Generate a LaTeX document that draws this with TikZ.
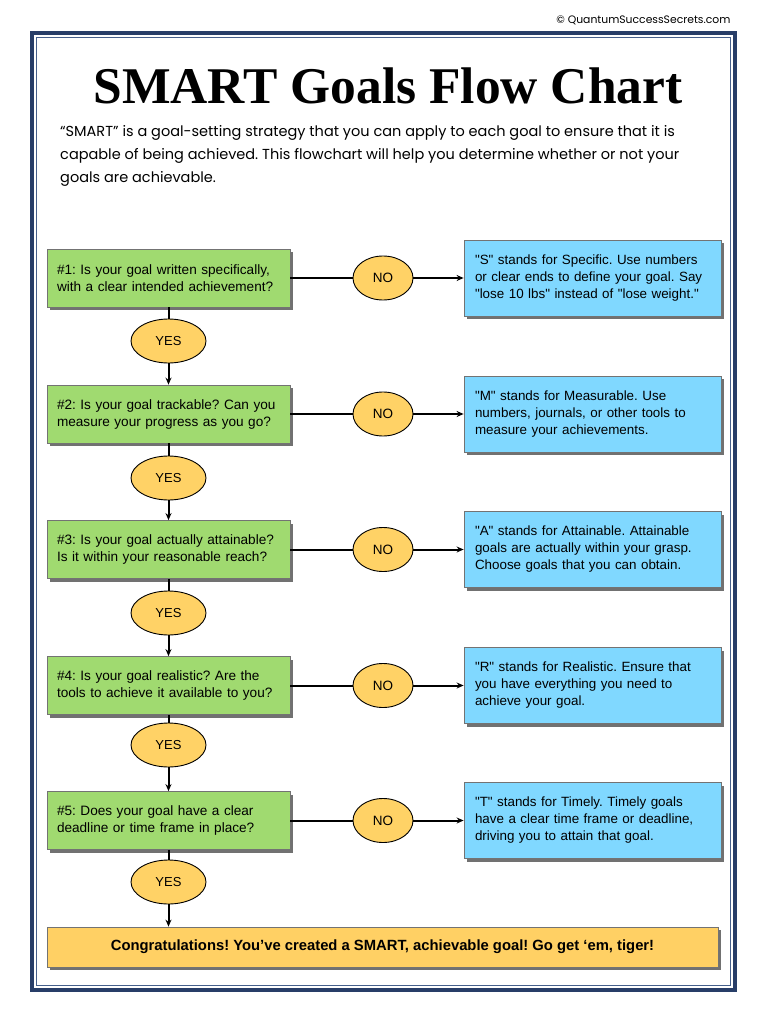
\documentclass[tikz,border=0pt]{standalone}
\usepackage{fontspec}
\setmainfont{Liberation Sans}
\newfontfamily\titlefont{Liberation Serif}
\newfontfamily\introfont{Poppins}
\usetikzlibrary{shapes.geometric,shadows,arrows.meta}
\definecolor{greenc}{RGB}{160,218,112}
\definecolor{bluec}{RGB}{128,216,255}
\definecolor{yelc}{RGB}{255,210,102}
\definecolor{finc}{RGB}{255,208,100}
\definecolor{navy}{RGB}{40,62,104}
\definecolor{navyl}{RGB}{70,96,140}
\newcommand{\dq}{\textquotedbl}
\tikzset{
  shad/.style={drop shadow={shadow xshift=3pt,shadow yshift=-3pt,fill=black!65,opacity=0.85}},
  qbox/.style={draw=black!55,line width=0.8pt,fill=greenc,shad,minimum width=243pt,minimum height=58pt,
    text width=223pt,inner xsep=10pt,align=left,font=\frenchspacing\fontsize{13.6}{17}\selectfont},
  sbox/.style={draw=black!55,line width=0.8pt,fill=bluec,shad,minimum width=257pt,minimum height=76pt,
    text width=235pt,inner xsep=11pt,align=left,font=\frenchspacing\fontsize{13.4}{17}\selectfont},
  yesell/.style={ellipse,draw=black,line width=0.9pt,fill=yelc,minimum width=75pt,minimum height=44pt,inner sep=0pt,font=\fontsize{13}{14}\selectfont},
  noell/.style={ellipse,draw=black,line width=0.9pt,fill=yelc,minimum width=60pt,minimum height=44pt,inner sep=0pt,font=\fontsize{13.5}{15}\selectfont},
  conn/.style={draw=black,line width=2pt},
  arr/.style={conn,-{Stealth[length=7pt,width=6pt]}}
}
\begin{document}
\begin{tikzpicture}[x=1pt,y=-1pt]
\useasboundingbox (0,0) rectangle (768,1024);
\fill[white] (0,0) rectangle (768,1024);
% frame
\draw[navy,line width=4pt] (32,33) rectangle (735,990);
\draw[navyl,line width=1pt] (36.5,37.5) rectangle (730.5,985.5);
% header
\node[anchor=east,font=\introfont\fontsize{10.8}{12}\selectfont] (copy) at (734,20) {© QuantumSuccessSecrets.com};
\node[font=\titlefont\bfseries\fontsize{51.5}{56}\selectfont] (title) at (388,86) {SMART Goals Flow Chart};
\node[anchor=base west,inner sep=0pt,font=\introfont\frenchspacing\fontsize{14.5}{16}\selectfont] (intro1) at (60,137) {“SMART” is a goal-setting strategy that you can apply to each goal to ensure that it is};
\node[anchor=base west,inner sep=0pt,font=\introfont\frenchspacing\fontsize{14.5}{16}\selectfont] (intro2) at (60,160) {capable of being achieved. This flowchart will help you determine whether or not your};
\node[anchor=base west,inner sep=0pt,font=\introfont\frenchspacing\fontsize{14.5}{16}\selectfont] (intro3) at (60,183) {goals are achievable.};
% questions
\node[qbox] (q1) at (168.5,278) {\#1: Is your goal written specifically,\\with a clear intended achievement?};
\node[qbox] (q2) at (168.5,414) {\#2: Is your goal trackable? Can you\\measure your progress as you go?};
\node[qbox] (q3) at (168.5,549.5) {\#3: Is your goal actually attainable?\\Is it within your reasonable reach?};
\node[qbox] (q4) at (168.5,685.5) {\#4: Is your goal realistic? Are the\\tools to achieve it available to you?};
\node[qbox] (q5) at (168.5,820.5) {\#5: Does your goal have a clear\\deadline or time frame in place?};
% explanations
\node[sbox] (s1) at (592.5,278) {\dq S\dq{} stands for Specific. Use numbers\\or clear ends to define your goal. Say\\\dq lose 10 lbs\dq{} instead of \dq lose weight.\dq};
\node[sbox] (s2) at (592.5,414) {\dq M\dq{} stands for Measurable. Use\\numbers, journals, or other tools to\\measure your achievements.};
\node[sbox] (s3) at (592.5,549.5) {\dq A\dq{} stands for Attainable. Attainable\\goals are actually within your grasp.\\Choose goals that you can obtain.};
\node[sbox] (s4) at (592.5,685.5) {\dq R\dq{} stands for Realistic. Ensure that\\you have everything you need to\\achieve your goal.};
\node[sbox] (s5) at (592.5,820.5) {\dq T\dq{} stands for Timely. Timely goals\\have a clear time frame or deadline,\\driving you to attain that goal.};
% NO ellipses
\node[noell] (n1) at (383,278) {NO};
\node[noell] (n2) at (383,414) {NO};
\node[noell] (n3) at (383,549.5) {NO};
\node[noell] (n4) at (383,685.5) {NO};
\node[noell] (n5) at (383,820.5) {NO};
% YES ellipses
\node[yesell] (y1) at (168.5,341) {YES};
\node[yesell] (y2) at (168.5,478) {YES};
\node[yesell] (y3) at (168.5,613) {YES};
\node[yesell] (y4) at (168.5,745) {YES};
\node[yesell] (y5) at (168.5,882) {YES};
% final
\node[draw=black!55,line width=0.8pt,fill=finc,shad,minimum width=671pt,minimum height=40pt,
  font=\bfseries\frenchspacing\fontsize{14.8}{16}\selectfont] (fin) at (382.5,947) {Congratulations! You’ve created a SMART, achievable goal! Go get ‘em, tiger!};
% connectors
\foreach \i in {1,...,5}{
  \draw[conn] (q\i.east) -- (n\i.west);
  \draw[arr] (n\i.east) -- (s\i.west);
  \draw[conn] (q\i.south) -- (y\i.north);
}
\foreach \i/\j in {1/2,2/3,3/4,4/5}{
  \draw[arr] (y\i.south) -- (q\j.north);
}
\draw[arr] (y5.south) -- (y5.south |- fin.north);
\end{tikzpicture}
\end{document}
